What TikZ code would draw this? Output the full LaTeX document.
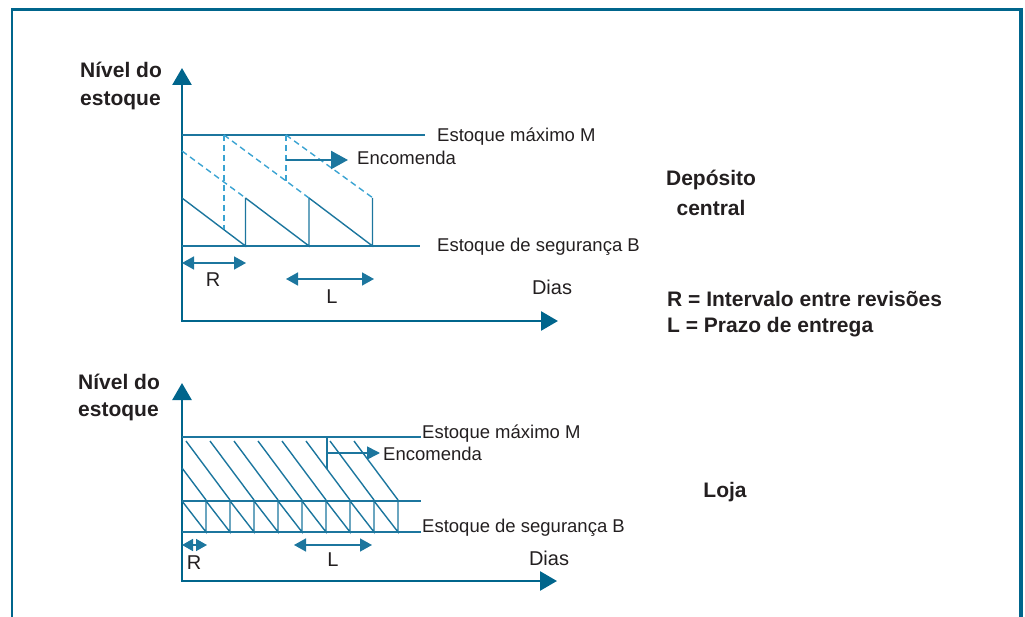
\documentclass[tikz,border=0pt]{standalone}
\usepackage{fontspec}
\setmainfont{Liberation Sans}
\usetikzlibrary{arrows.meta,calc}
\definecolor{frameblue}{RGB}{0,101,140}
\definecolor{lineblue}{RGB}{28,118,158}
\definecolor{dashblue}{RGB}{58,163,210}
\definecolor{txt}{RGB}{35,31,32}

\begin{document}
\begin{tikzpicture}[x=1pt,y=-1pt,
  axis/.style={line width=2.6pt, frameblue, {Triangle[length=17pt,width=19pt]}-{Triangle[length=17pt,width=19pt]}},
  stock/.style={line width=1.4pt, lineblue},
  ordered/.style={line width=1.4pt, dashblue, dash pattern=on 6pt off 4pt},
  span/.style={line width=1.6pt, lineblue, {Triangle[length=12pt,width=13pt]}-{Triangle[length=12pt,width=13pt]}},
  lbl/.style={font=\fontsize{18.5}{22}\selectfont, text=txt, inner sep=0pt},
  axlbl/.style={font=\fontsize{20}{24}\selectfont, text=txt, inner sep=0pt},
  ttl/.style={font=\fontsize{21}{25}\selectfont\bfseries, text=txt, inner sep=0pt}]
\useasboundingbox (0,0) rectangle (1025,617);
% Frame
\draw[line width=2.5pt, frameblue] (12,625) -- (12,9.5) -- (1021,9.5);
\draw[line width=4pt, frameblue] (1021,8) -- (1021,625);

%% ---------- Deposito central ----------
\coordinate (O1) at (182,321);
\draw[axis] (182,68) -- (O1) -- (558,321);
\node[ttl, anchor=base west] (niv1) at (80,78) {Nível do};
\node[ttl, anchor=base west] (est1) at (80,106) {estoque};
% max and safety stock
\draw[stock] (O1 |- 0,135) -- (425,135);
\draw[stock] (O1 |- 0,246) -- (420,246);
\node[lbl, anchor=base west] (max1) at (437,142) {Estoque máximo M};
\node[lbl, anchor=base west] (seg1) at (437,252) {Estoque de segurança B};
% stock on hand
\foreach \x in {182,245.5,309} {
  \draw[stock] (\x,198) -- ++(63.5,48) -- ++(0,-48);
}
% stock on order
\draw[ordered] (182,151) -- (245.5,198);
\draw[ordered] (224,135) -- (309,198);
\draw[ordered] (286,135) -- (373,198);
\draw[ordered] (224,135) -- (224,229);
\draw[ordered] (286,135) -- (286,182);
% order
\coordinate (ord1) at (286,160);
\node[lbl, anchor=base west] (enc1) at (357,165) {Encomenda};
\draw[line width=2.4pt, lineblue, -{Triangle[length=17pt,width=18pt]}, shorten >=9pt] (ord1) -- (enc1.west |- ord1);
% R and L
\draw[span] (182,263) -- (246,263);
\node[axlbl] (r1) at (213,280) {R};
\draw[span] (286,279) -- (374,279);
\node[axlbl] (l1) at (332,297) {L};
\node[axlbl] (dias1) at (552,287) {Dias};
\node[ttl, anchor=base] (dep) at (711,186) {Depósito};
\node[ttl, anchor=base] (cen) at (711,216) {central};
\node[ttl, anchor=base west] (leg1) at (667,307) {R = Intervalo entre revisões};
\node[ttl, anchor=base west] (leg2) at (667,333) {L = Prazo de entrega};

%% ---------- Loja ----------
\coordinate (O2) at (182,581);
\draw[axis] (182,383) -- (O2) -- (557,581);
\node[ttl, anchor=base west] (niv2) at (78,389) {Nível do};
\node[ttl, anchor=base west] (est2) at (78,416) {estoque};
% max, mid and safety stock
\draw[stock] (O2 |- 0,437) -- (421,437);
\draw[stock] (O2 |- 0,501) -- (421,501);
\draw[stock] (O2 |- 0,532) -- (421,532);
\node[lbl, anchor=base west] (max2) at (422,438) {Estoque máximo M};
\node[lbl, anchor=base west] (seg2) at (422,532) {Estoque de segurança B};
% stock on hand
\foreach \i in {0,...,8} {
  \draw[stock] ({182+24*\i},501) -- ++(24,31) -- ++(0,-31);
}
% stock on order
\draw[stock] (182,468) -- (206,500);
\foreach \i in {2,...,9} {
  \draw[stock] ({138+24*\i},441) -- ++(44,59);
}
\draw[stock] (327,437) -- (327,469);
% order
\coordinate (ord2) at (327,453);
\node[lbl, anchor=base west] (enc2) at (383,460) {Encomenda};
\draw[line width=1.6pt, lineblue, -{Triangle[length=13pt,width=13pt]}, shorten >=3pt] (ord2) -- (enc2.west |- ord2);
% R and L
\draw[line width=1.6pt, lineblue, {Triangle[length=11pt,width=12pt]}-{Triangle[length=11pt,width=12pt]}] (182,545) -- (207,545);
\node[axlbl] (r2) at (194,563) {R};
\draw[span] (294,545) -- (372,545);
\node[axlbl] (l2) at (333,560) {L};
\node[axlbl] (dias2) at (549,558) {Dias};
\node[ttl] (loja) at (725,492) {Loja};
\end{tikzpicture}
\end{document}
